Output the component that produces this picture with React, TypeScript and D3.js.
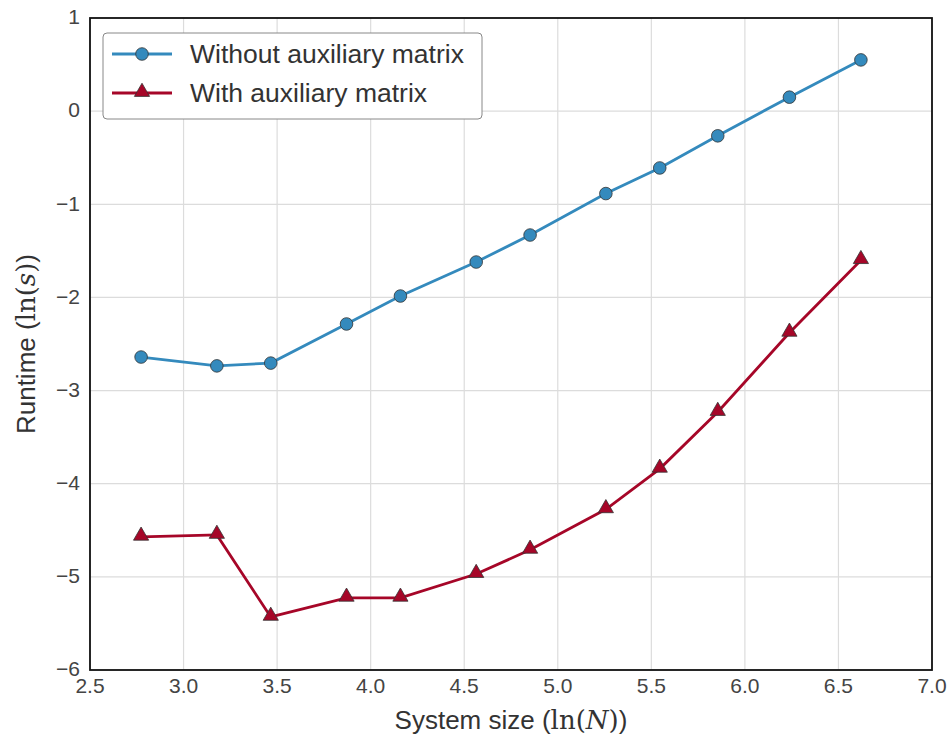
import * as d3 from 'd3';
import React from 'react';

// ln(N) for the system sizes measured
const sizes = [2.773, 3.178, 3.466, 3.871, 4.159, 4.564, 4.852, 5.257, 5.545, 5.855, 6.238, 6.62];
const withoutAux = [-2.64, -2.735, -2.705, -2.285, -1.985, -1.62, -1.33, -0.885, -0.61, -0.265, 0.15, 0.55];
const withAux = [-4.57, -4.55, -5.43, -5.225, -5.225, -4.97, -4.71, -4.275, -3.84, -3.23, -2.38, -1.6];
const xTicks = [2.5, 3.0, 3.5, 4.0, 4.5, 5.0, 5.5, 6.0, 6.5, 7.0];
const yTicks = [1, 0, -1, -2, -3, -4, -5, -6];

const BLUE = '#348ABD';
const RED = '#A60628';
const FONT = '"Liberation Sans", Arial, sans-serif';
const MATH = '"DejaVu Serif", "Liberation Serif", serif';

const App: React.FC = () => {
  const width = 950;
  const height = 737;
  const margin = { top: 18, right: 18, bottom: 67, left: 90 };
  const innerWidth = width - margin.left - margin.right;
  const innerHeight = height - margin.top - margin.bottom;

  const x = d3.scaleLinear().domain([2.5, 7.0]).range([0, innerWidth]);
  const y = d3.scaleLinear().domain([-6, 1]).range([innerHeight, 0]);

  const line = d3
    .line<number>()
    .x((_, i) => x(sizes[i]))
    .y((d) => y(d));

  const tri = d3.symbol(d3.symbolTriangle, 100)();
  const fmt = (v: number) => (v < 0 ? `\u2212${Math.abs(v)}` : `${v}`);

  return (
    <svg width={width} height={height} style={{ position: 'absolute', left: 0, top: 0 }}>
      <rect width={width} height={height} fill="#fff" />
      <g transform={`translate(${margin.left},${margin.top})`}>
        {xTicks.map((t) => (
          <line key={`gx${t}`} x1={x(t)} x2={x(t)} y1={0} y2={innerHeight} stroke="#dcdcdc" strokeWidth={1.2} />
        ))}
        {yTicks.map((t) => (
          <line key={`gy${t}`} x1={0} x2={innerWidth} y1={y(t)} y2={y(t)} stroke="#dcdcdc" strokeWidth={1.2} />
        ))}

        <path d={line(withoutAux) || ''} fill="none" stroke={BLUE} strokeWidth={2.8} />
        <path d={line(withAux) || ''} fill="none" stroke={RED} strokeWidth={2.8} />

        {withoutAux.map((v, i) => (
          <circle key={`b${i}`} cx={x(sizes[i])} cy={y(v)} r={6.3} fill={BLUE} stroke="#333" strokeWidth={0.8} />
        ))}
        {withAux.map((v, i) => (
          <path
            key={`r${i}`}
            d={tri}
            transform={`translate(${x(sizes[i])},${y(v) - 1})`}
            fill={RED}
            stroke="#333"
            strokeWidth={0.8}
          />
        ))}

        <rect x={0} y={0} width={innerWidth} height={innerHeight} fill="none" stroke="#111" strokeWidth={1.8} />

        {xTicks.map((t) => (
          <text key={`tx${t}`} x={x(t)} y={innerHeight + 23} textAnchor="middle" fontSize={21} fill="#444" fontFamily={FONT}>
            {t.toFixed(1)}
          </text>
        ))}
        {yTicks.map((t) => (
          <text key={`ty${t}`} x={-10} y={y(t)} dy="0.3em" textAnchor="end" fontSize={21} fill="#444" fontFamily={FONT}>
            {fmt(t)}
          </text>
        ))}

        {/* legend */}
        <g transform="translate(13,15)">
          <rect x={0} y={0} width={379} height={86} rx={4} fill="#fff" stroke="#888" strokeWidth={1} />
          <line x1={9} x2={69} y1={21} y2={21} stroke={BLUE} strokeWidth={2.8} />
          <circle cx={39} cy={21} r={6.3} fill={BLUE} stroke="#333" strokeWidth={0.8} />
          <text x={87} y={21} dy="0.35em" fontSize={26.5} fill="#333" fontFamily={FONT}>
            Without auxiliary matrix
          </text>
          <line x1={9} x2={69} y1={60} y2={60} stroke={RED} strokeWidth={2.8} />
          <path d={tri} transform="translate(39,59)" fill={RED} stroke="#333" strokeWidth={0.8} />
          <text x={87} y={60} dy="0.35em" fontSize={26.5} fill="#333" fontFamily={FONT}>
            With auxiliary matrix
          </text>
        </g>
      </g>

      <text x={margin.left + innerWidth / 2} y={729} textAnchor="middle" fontSize={26} fill="#333" fontFamily={FONT}>
        System size (<tspan fontFamily={MATH}>ln(</tspan>
        <tspan fontFamily={MATH} fontStyle="italic">N</tspan>
        <tspan fontFamily={MATH}>)</tspan>)
      </text>
      <text
        transform={`translate(35,${margin.top + innerHeight / 2}) rotate(-90)`}
        textAnchor="middle"
        fontSize={26}
        fill="#333"
        fontFamily={FONT}
      >
        Runtime (<tspan fontFamily={MATH}>ln(</tspan>
        <tspan fontFamily={MATH} fontStyle="italic">s</tspan>
        <tspan fontFamily={MATH}>)</tspan>)
      </text>
    </svg>
  );
};

export default App;
